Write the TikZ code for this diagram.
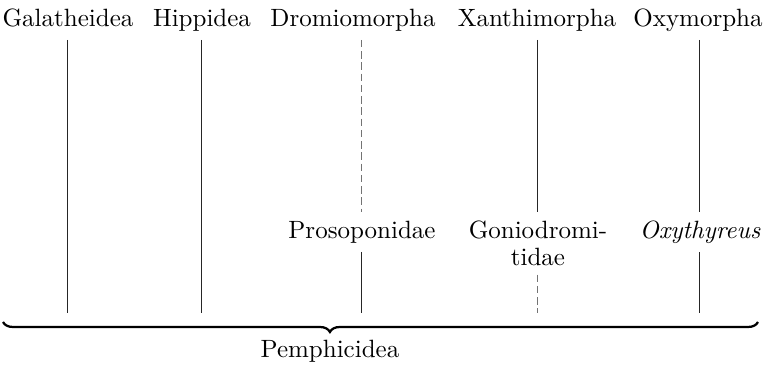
\documentclass[tikz,border=0pt]{standalone}
\usetikzlibrary{positioning,decorations.pathreplacing}
\tikzset{
  taxon/.style      = {anchor=base, inner sep=3.33pt},
  subtaxon/.style   = {anchor=north, inner sep=3.33pt, align=center},
  stem/.style       = {draw=black!85, line width=0.4pt},
  faintstem/.style  = {stem, draw=black!55, dash pattern=on 3pt off 1.5pt},
  groupbrace/.style = {draw=black, line width=0.9pt, decorate,
                       decoration={brace, mirror, amplitude=4pt, aspect=0.433}},
}
\begin{document}
\begin{tikzpicture}[x=0.4pt, y=-0.4pt]
  \useasboundingbox (0,0) rectangle (763,365);
  \node[taxon] (gal) at (68,27)  {Galatheidea};
  \node[taxon] (hip) at (202,27) {Hippidea};
  \node[taxon] (dro) at (353,27) {Dromiomorpha};
  \node[taxon] (xan) at (537,27) {Xanthimorpha};
  \node[taxon] (oxy) at (698,27) {Oxymorpha};

  \node[subtaxon] (pros) at (362,212) {Prosoponidae};
  \node[subtaxon] (gon)  at (538,212) {Goniodromi-\\[-1.2pt]tidae};
  \node[subtaxon, font=\itshape] (oxyt) at (700,212) {Oxythyreus};

  \coordinate (head) at (0,40);
  \coordinate (foot) at (0,313);
  \draw[stem] (gal.south |- head) -- (gal.south |- foot);
  \draw[stem] (hip.south |- head) -- (hip.south |- foot);
  \draw[faintstem] (pros.north |- head) -- (pros.north);
  \draw[stem] (pros.south) -- (pros.south |- foot);
  \draw[stem] (gon.north |- head) -- (gon.north);
  \draw[faintstem] (gon.south) -- (gon.south |- foot);
  \draw[stem] (oxyt.north |- head) -- (oxyt.north);
  \draw[stem] (oxyt.south) -- (oxyt.south |- foot);

  \coordinate (bl) at (3,322);
  \coordinate (br) at (758,322);
  \draw[groupbrace] (bl) -- (br);
  \node[taxon] (pem) at (330,358) {Pemphicidea};
\end{tikzpicture}
\end{document}
